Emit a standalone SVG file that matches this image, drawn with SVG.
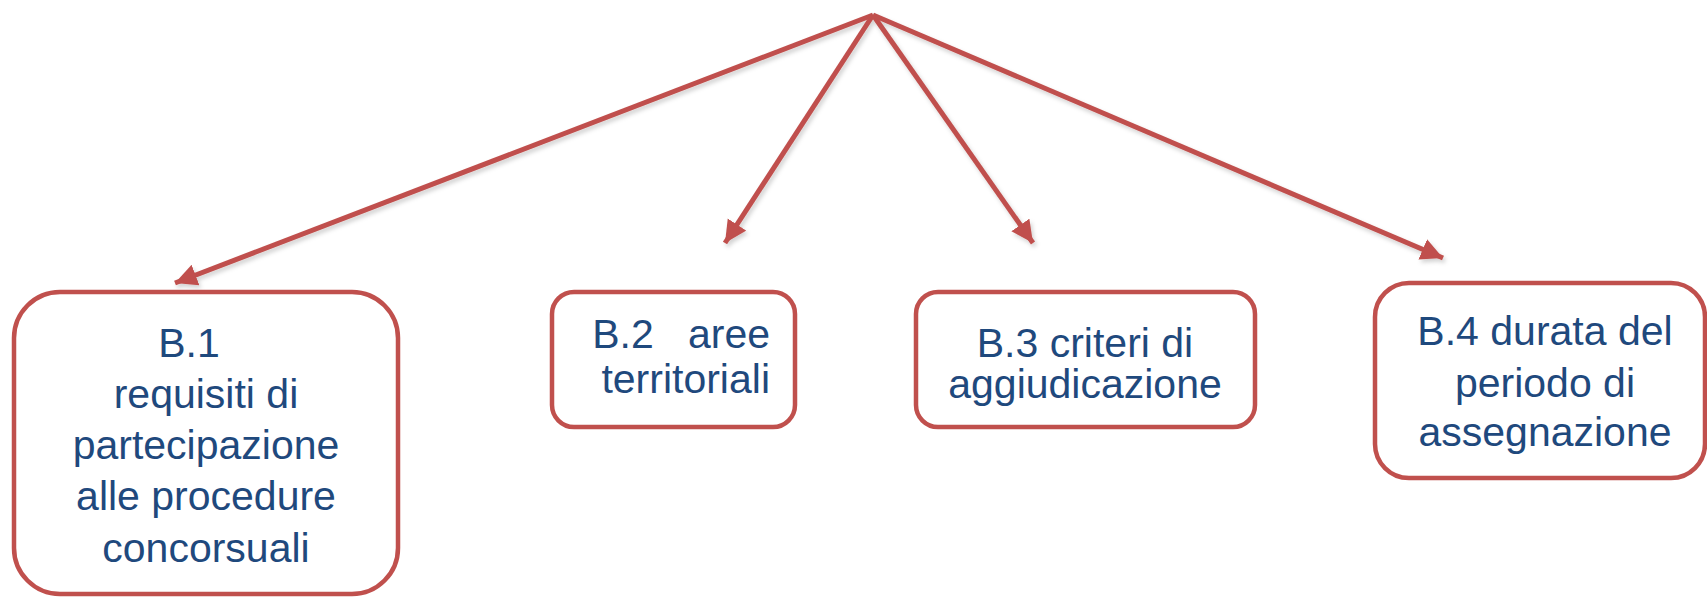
<svg xmlns="http://www.w3.org/2000/svg" width="1707" height="598" viewBox="0 0 1707 598">
<style>
.box{fill:#ffffff;stroke:#C0504D;stroke-width:4.5}
.lbl{font-family:"Liberation Sans",Arial,sans-serif;font-size:41px;fill:#1F497D}
.conn{stroke:#C0504D;stroke-width:5;fill:none}
</style>
<defs>
<marker id="ah" markerUnits="userSpaceOnUse" markerWidth="30" markerHeight="30" refX="22" refY="11" orient="auto">
<path d="M0,0 L22,11 L0,22 Z" fill="#C0504D"/>
</marker>
<filter id="sh" x="-10%" y="-10%" width="120%" height="120%">
<feDropShadow dx="2" dy="3" stdDeviation="2" flood-color="#000" flood-opacity="0.18"/>
</filter>
</defs>
<rect width="1707" height="598" fill="#ffffff"/>
<g id="connectors" filter="url(#sh)">
<line class="conn" x1="873" y1="15" x2="175" y2="283" marker-end="url(#ah)"/>
<line class="conn" x1="873" y1="15" x2="725" y2="243" marker-end="url(#ah)"/>
<line class="conn" x1="873" y1="15" x2="1033" y2="243" marker-end="url(#ah)"/>
<line class="conn" x1="873" y1="15" x2="1443" y2="258" marker-end="url(#ah)"/>
</g>
<g id="b1">
<rect class="box" x="14" y="292" width="384" height="302" rx="46"/>
<text class="lbl" text-anchor="middle"><tspan x="189" y="357">B.1</tspan><tspan x="206" y="408">requisiti di</tspan><tspan x="206" y="459">partecipazione</tspan><tspan x="206" y="510">alle procedure</tspan><tspan x="206" y="562">concorsuali</tspan></text>
</g>
<g id="b2">
<rect class="box" x="552" y="292" width="243" height="135" rx="22"/>
<text class="lbl" text-anchor="end"><tspan x="770" y="348">B.2&#160;&#160; aree</tspan><tspan x="770" y="393">territoriali</tspan></text>
</g>
<g id="b3">
<rect class="box" x="916" y="292" width="339" height="135" rx="22"/>
<text class="lbl" text-anchor="middle"><tspan x="1085" y="357">B.3 criteri di</tspan><tspan x="1085" y="398">aggiudicazione</tspan></text>
</g>
<g id="b4">
<rect class="box" x="1375" y="283" width="330" height="195" rx="34"/>
<text class="lbl" text-anchor="middle"><tspan x="1545" y="345">B.4 durata del</tspan><tspan x="1545" y="397">periodo di</tspan><tspan x="1545" y="446">assegnazione</tspan></text>
</g>
</svg>
